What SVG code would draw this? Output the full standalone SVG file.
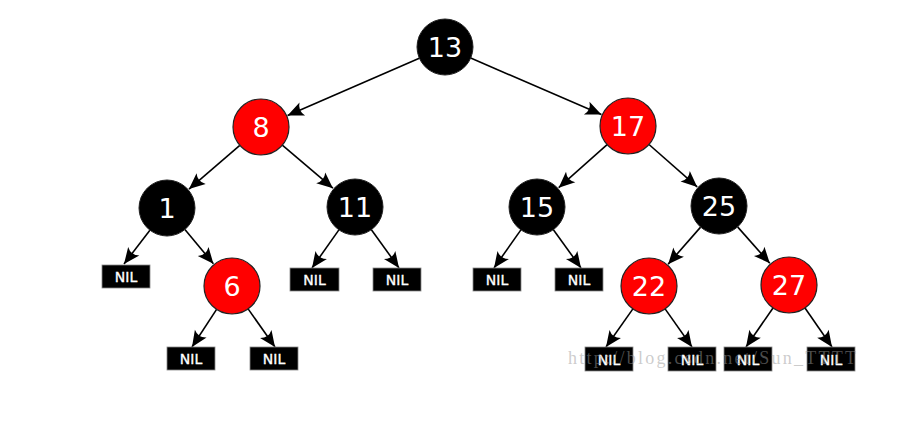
<svg xmlns="http://www.w3.org/2000/svg" width="918" height="441" viewBox="0 0 918 441">
<style>
.blk{fill:#000;stroke:#222;stroke-width:1}
.red{fill:#f00;stroke:#222;stroke-width:1.2}
.num{fill:#fff;font-family:"DejaVu Sans",sans-serif;font-size:27px;text-anchor:middle;dominant-baseline:central}
.nilb{fill:#000;stroke:#888;stroke-width:0.8}
.nil{fill:#fff;stroke:#fff;stroke-width:0.35;font-family:"DejaVu Sans",sans-serif;font-size:14px;text-anchor:middle;dominant-baseline:central}
.e{stroke:#000;stroke-width:1.6;fill:none;marker-end:url(#ah)}
.wm{fill:#999;fill-opacity:0.5;font-family:"Liberation Serif",serif;font-size:18px}
</style>
<defs>
<marker id="ah" markerUnits="userSpaceOnUse" viewBox="-18 -10 20 20" markerWidth="20" markerHeight="20" refX="0" refY="0" orient="auto">
<path d="M0,0 L-16,-7 Q-11,0 -16,7 Z" fill="#000"/>
</marker>
</defs>
<rect width="918" height="441" fill="#fff"/>
<g id="connectors">
<line class="e" x1="419.3" y1="58.2" x2="287.6" y2="115.4"/>
<line class="e" x1="470.7" y1="58.1" x2="601.4" y2="114.5"/>
<line class="e" x1="239.8" y1="145.3" x2="189" y2="189.1"/>
<line class="e" x1="282.3" y1="145.1" x2="332.9" y2="188.2"/>
<line class="e" x1="607.1" y1="144.6" x2="558.7" y2="187.7"/>
<line class="e" x1="649" y1="144.5" x2="697.2" y2="186.9"/>
<line class="e" x1="149.9" y1="230.2" x2="124" y2="264"/>
<line class="e" x1="184.9" y1="229.5" x2="213.4" y2="263.7"/>
<line class="e" x1="338.9" y1="229.9" x2="312" y2="268"/>
<line class="e" x1="371.4" y1="229.7" x2="399" y2="268"/>
<line class="e" x1="520.9" y1="229.9" x2="494" y2="268"/>
<line class="e" x1="553.4" y1="229.7" x2="581" y2="268"/>
<line class="e" x1="700.6" y1="227.1" x2="668.1" y2="264.2"/>
<line class="e" x1="737.6" y1="226.9" x2="769.8" y2="263.3"/>
<line class="e" x1="216.6" y1="309.4" x2="192" y2="347"/>
<line class="e" x1="248.1" y1="308.9" x2="275" y2="347"/>
<line class="e" x1="632.9" y1="308.9" x2="606" y2="347"/>
<line class="e" x1="665.1" y1="308.9" x2="692" y2="347"/>
<line class="e" x1="773" y1="308" x2="746" y2="347"/>
<line class="e" x1="805" y1="308" x2="832" y2="347"/>
</g>
<g id="n13"><circle class="blk" cx="445" cy="47" r="28"/><text class="num" x="445" y="47">13</text></g>
<g id="n8"><circle class="red" cx="261" cy="127" r="28"/><text class="num" x="261" y="127">8</text></g>
<g id="n17"><circle class="red" cx="628" cy="126" r="28"/><text class="num" x="628" y="126">17</text></g>
<g id="n1"><circle class="blk" cx="167" cy="208" r="28"/><text class="num" x="167" y="208">1</text></g>
<g id="n11"><circle class="blk" cx="355" cy="207" r="28"/><text class="num" x="355" y="207">11</text></g>
<g id="n15"><circle class="blk" cx="537" cy="207" r="28"/><text class="num" x="537" y="207">15</text></g>
<g id="n25"><circle class="blk" cx="719" cy="206" r="28"/><text class="num" x="719" y="206">25</text></g>
<g id="n6"><circle class="red" cx="232" cy="286" r="28"/><text class="num" x="232" y="286">6</text></g>
<g id="n22"><circle class="red" cx="649" cy="286" r="28"/><text class="num" x="649" y="286">22</text></g>
<g id="n27"><circle class="red" cx="789" cy="285" r="28"/><text class="num" x="789" y="285">27</text></g>
<g id="nil1"><rect class="nilb" x="102" y="265" width="48" height="23"/><text class="nil" x="126" y="277">NIL</text></g>
<g id="nil11a"><rect class="nilb" x="290" y="268" width="49" height="23"/><text class="nil" x="314.5" y="280">NIL</text></g>
<g id="nil11b"><rect class="nilb" x="373" y="268" width="48" height="23"/><text class="nil" x="397" y="280">NIL</text></g>
<g id="nil15a"><rect class="nilb" x="473" y="268" width="48" height="23"/><text class="nil" x="497" y="280">NIL</text></g>
<g id="nil15b"><rect class="nilb" x="555" y="268" width="48" height="23"/><text class="nil" x="579" y="280">NIL</text></g>
<g id="nil6a"><rect class="nilb" x="167" y="347" width="48" height="23"/><text class="nil" x="191" y="359">NIL</text></g>
<g id="nil6b"><rect class="nilb" x="250" y="347" width="48" height="23"/><text class="nil" x="274" y="359">NIL</text></g>
<g id="nil22a"><rect class="nilb" x="585" y="347" width="48" height="24"/><text class="nil" x="609" y="359.5">NIL</text></g>
<g id="nil22b"><rect class="nilb" x="668" y="347" width="48" height="24"/><text class="nil" x="692" y="359.5">NIL</text></g>
<g id="nil27a"><rect class="nilb" x="724" y="347" width="48" height="24"/><text class="nil" x="748" y="359.5">NIL</text></g>
<g id="nil27b"><rect class="nilb" x="807" y="347" width="48" height="24"/><text class="nil" x="831" y="359.5">NIL</text></g>
<text class="wm" x="568" y="364" textLength="288" lengthAdjust="spacing">http://blog.csdn.net/Sun_TTTT</text>
</svg>
